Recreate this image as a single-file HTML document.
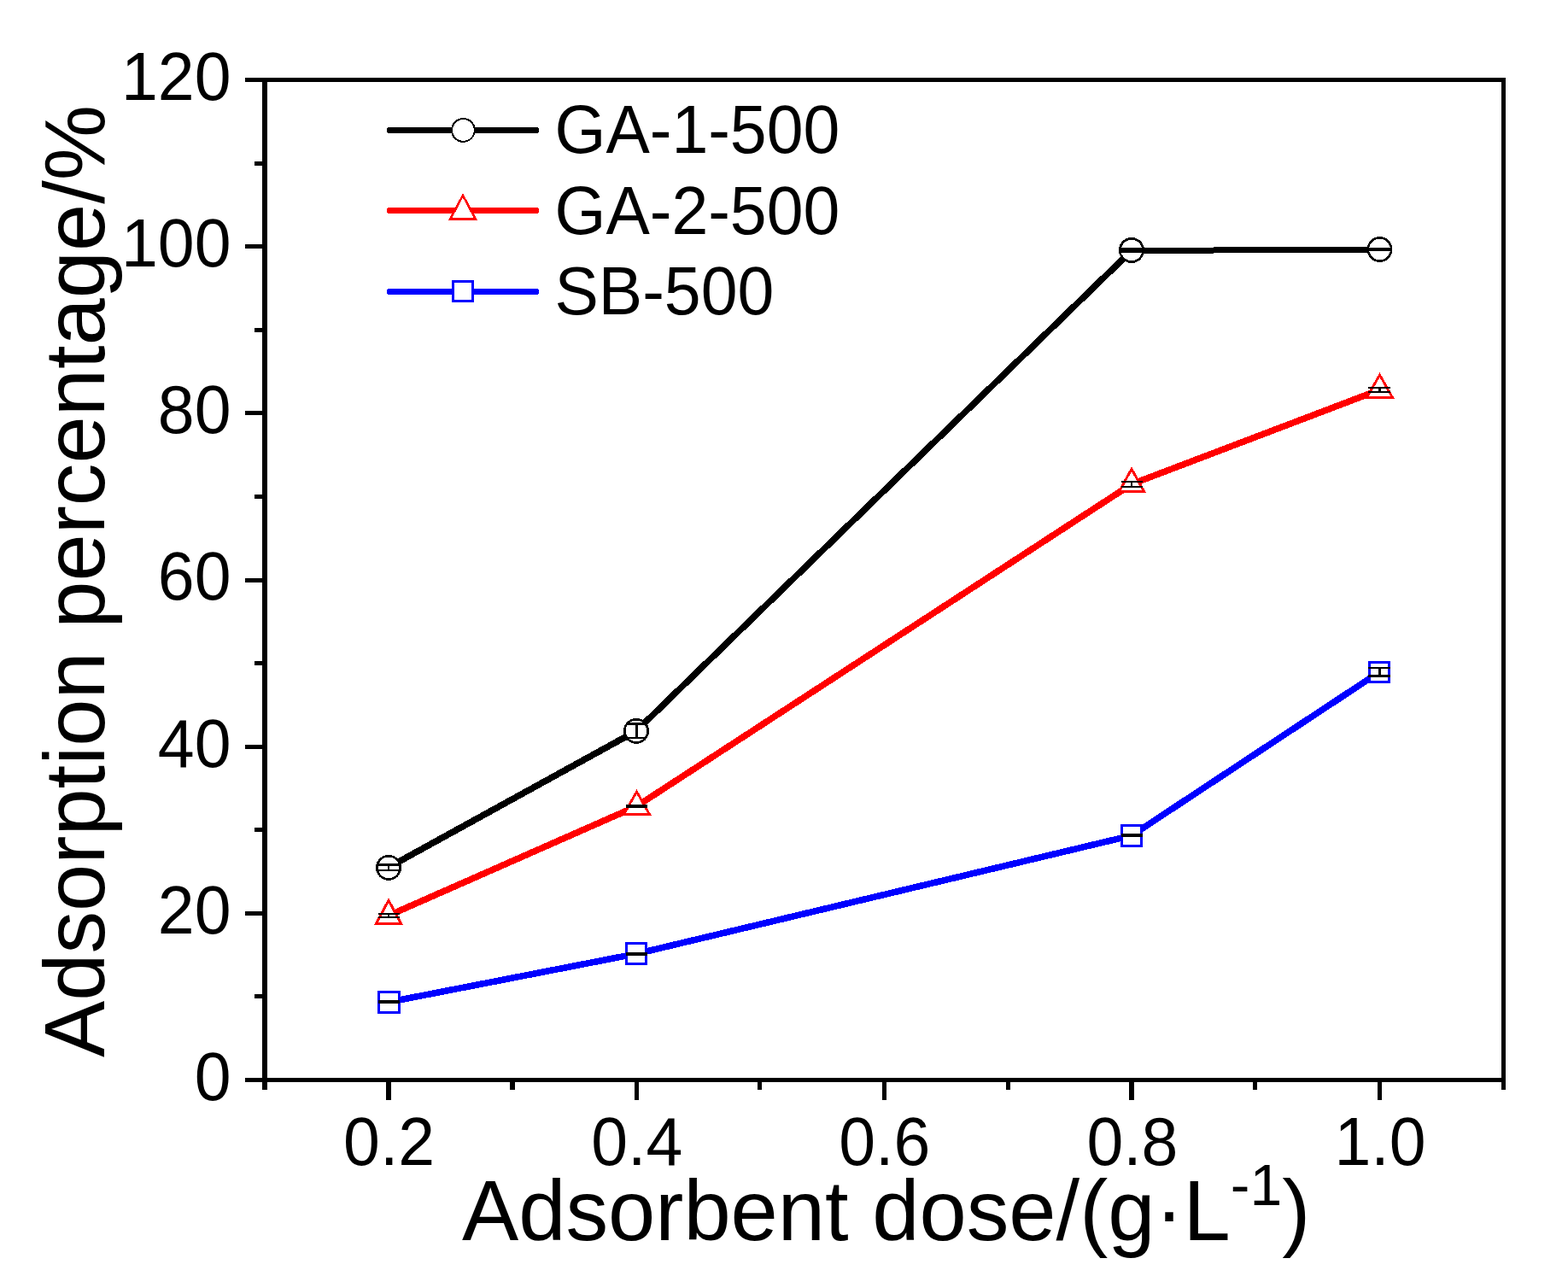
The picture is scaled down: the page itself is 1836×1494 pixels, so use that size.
<!DOCTYPE html>
<html lang="en">
<head>
<meta charset="utf-8">
<title>Adsorption percentage vs adsorbent dose</title>
<style>
html,body{margin:0;padding:0;background:#fff;}
body{width:1836px;height:1494px;overflow:hidden;}
svg{display:block;}
text{font-family:"Liberation Sans",sans-serif;fill:#000;}
.tick{font-size:77px;}
.title{font-size:99.3px;}
.leg{font-size:77px;}
.ax{fill:#000;}
.crisp{shape-rendering:crispEdges;}
.eb{fill:#000;}
</style>
</head>
<body>
<svg width="1836" height="1494" viewBox="0 0 1836 1494">
<rect x="0" y="0" width="1836" height="1494" fill="#fff"/>

<g class="ax crisp">
<rect x="307" y="91" width="6" height="1185"/>
<rect x="1758" y="91" width="5" height="1185"/>
<rect x="287" y="91" width="1476" height="5"/>
<rect x="287" y="1262" width="1476" height="5"/>
<rect x="298" y="1164" width="10" height="5"/>
<rect x="287" y="1067" width="21" height="5"/>
<rect x="298" y="969" width="10" height="5"/>
<rect x="287" y="872" width="21" height="5"/>
<rect x="298" y="774" width="10" height="5"/>
<rect x="287" y="677" width="21" height="5"/>
<rect x="298" y="579" width="10" height="5"/>
<rect x="287" y="481" width="21" height="5"/>
<rect x="298" y="384" width="10" height="5"/>
<rect x="287" y="286" width="21" height="5"/>
<rect x="298" y="189" width="10" height="5"/>
<rect x="452" y="1266" width="6" height="22"/>
<rect x="597" y="1266" width="6" height="10"/>
<rect x="743" y="1266" width="5" height="22"/>
<rect x="887" y="1266" width="5" height="10"/>
<rect x="1033" y="1266" width="5" height="22"/>
<rect x="1178" y="1266" width="5" height="10"/>
<rect x="1322" y="1266" width="6" height="22"/>
<rect x="1467" y="1266" width="5" height="10"/>
<rect x="1613" y="1266" width="5" height="22"/>
</g>
<g class="tick" text-anchor="end">
<text transform="translate(270.5,1287.8) scale(1,1.04)">0</text>
<text transform="translate(270.5,1092.6) scale(1,1.04)">20</text>
<text transform="translate(270.5,897.5) scale(1,1.04)">40</text>
<text transform="translate(270.5,702.3) scale(1,1.04)">60</text>
<text transform="translate(270.5,507.1) scale(1,1.04)">80</text>
<text transform="translate(270.5,312.0) scale(1,1.04)">100</text>
<text transform="translate(270.5,116.8) scale(1,1.04)">120</text>
</g>
<g class="tick" text-anchor="middle">
<text transform="translate(455.6,1363.8) scale(1,1.04)">0.2</text>
<text transform="translate(745.7,1363.8) scale(1,1.04)">0.4</text>
<text transform="translate(1035.8,1363.8) scale(1,1.04)">0.6</text>
<text transform="translate(1325.9,1363.8) scale(1,1.04)">0.8</text>
<text transform="translate(1616.0,1363.8) scale(1,1.04)">1.0</text>
</g>
<text class="title" x="541" y="1451.7">Adsorbent dose/(g·L<tspan font-size="68px" dy="-41">-1</tspan><tspan dy="41">)</tspan></text>
<text class="title" transform="translate(122,1238) rotate(-90)">Adsorption percentage/%</text>
<g class="crisp" fill="none" stroke-width="7.6" stroke-linejoin="round" stroke-linecap="butt">
<path d="M455 1015.5 L745 855.9 L1325 293.4" stroke="#000000"/>
<path d="M455 1072 L745.5 944 L1325 566.9 L1615.5 456.4" stroke="#ff0000"/>
<path d="M455.5 1173.2 L745 1116.8 L1325 978.3 L1615 787" stroke="#0000ff"/>
<path d="M1325 293.34L1615 292.34" stroke="#000000" stroke-width="7"/>
</g>
<g class="crisp">
<circle cx="455.05" cy="1015.9" r="13.65" fill="#fff" stroke="#000000" stroke-width="2.7"/>
<rect class="eb" x="443" y="1011" width="25" height="3"/><rect class="eb" x="443" y="1018" width="25" height="2"/><rect class="eb" x="454" y="1011" width="2" height="9"/>
<circle cx="745" cy="855.9" r="13.65" fill="#fff" stroke="#000000" stroke-width="2.7"/>
<rect class="eb" x="734" y="846" width="23" height="3"/><rect class="eb" x="734" y="863" width="23" height="2"/><rect class="eb" x="744" y="846" width="3" height="19"/>
<circle cx="1325" cy="293" r="13.65" fill="#fff" stroke="#000000" stroke-width="2.7"/>
<rect class="eb" x="1311" y="290" width="28" height="6"/>
<circle cx="1615.5" cy="292" r="13.65" fill="#fff" stroke="#000000" stroke-width="2.7"/>
<rect class="eb" x="1603" y="290" width="26" height="4"/>
<path d="M455 1054.09L469.59 1081.55L440.41 1081.55Z" fill="#fff" stroke="#ff0000" stroke-width="2.9" stroke-linejoin="miter" stroke-miterlimit="10"/>
<rect class="eb" x="443" y="1069" width="25" height="2"/><rect class="eb" x="443" y="1073" width="25" height="2"/><rect class="eb" x="454" y="1069" width="2" height="6"/>
<path d="M745.5 926.95L760.52 953.55L730.48 953.55Z" fill="#fff" stroke="#ff0000" stroke-width="2.9" stroke-linejoin="miter" stroke-miterlimit="10"/>
<rect class="eb" x="733" y="942" width="25" height="4"/>
<path d="M1325 549.02L1339.55 575.55L1310.45 575.55Z" fill="#fff" stroke="#ff0000" stroke-width="2.9" stroke-linejoin="miter" stroke-miterlimit="10"/>
<rect class="eb" x="1313" y="563" width="25" height="2"/><rect class="eb" x="1313" y="569" width="25" height="2"/><rect class="eb" x="1324" y="563" width="2" height="8"/>
<path d="M1615.5 438.95L1630.52 465.55L1600.48 465.55Z" fill="#fff" stroke="#ff0000" stroke-width="2.9" stroke-linejoin="miter" stroke-miterlimit="10"/>
<rect class="eb" x="1602" y="453" width="26" height="2"/><rect class="eb" x="1602" y="458" width="26" height="2"/><rect class="eb" x="1614" y="453" width="3" height="7"/>
<rect x="443.5" y="1161.5" width="24" height="24" fill="#fff" stroke="#0000ff" stroke-width="3.0"/>
<rect class="eb" x="443" y="1171" width="25" height="4"/>
<rect x="733.5" y="1104.5" width="23" height="24" fill="#fff" stroke="#0000ff" stroke-width="3.0"/>
<rect class="eb" x="733" y="1115" width="25" height="4"/>
<rect x="1313.5" y="966.5" width="23" height="24" fill="#fff" stroke="#0000ff" stroke-width="3.0"/>
<rect class="eb" x="1313" y="976" width="25" height="4"/>
<rect x="1603.5" y="775.5" width="23" height="23" fill="#fff" stroke="#0000ff" stroke-width="3.0"/>
<rect class="eb" x="1602" y="781" width="26" height="2"/><rect class="eb" x="1602" y="790" width="26" height="3"/><rect class="eb" x="1614" y="781" width="3" height="12"/>
</g>
<g class="crisp">
<path d="M456.4 152.5H627.6" fill="none" stroke="#000000" stroke-width="7" stroke-linecap="round"/>
<path d="M456.4 246.5H627.6" fill="none" stroke="#ff0000" stroke-width="7" stroke-linecap="round"/>
<path d="M456.4 341.5H627.6" fill="none" stroke="#0000ff" stroke-width="7" stroke-linecap="round"/>
<circle cx="542.4" cy="152.4" r="13.4" fill="#fff" stroke="#000000" stroke-width="2.0"/>
<path d="M542 228.77L556.84 256.7L527.16 256.7Z" fill="#fff" stroke="#ff0000" stroke-width="2.6" stroke-linejoin="miter" stroke-miterlimit="10"/>
<rect x="530.4" y="329.4" width="23.2" height="23.2" fill="#fff" stroke="#0000ff" stroke-width="2.8"/>
</g>
<text class="leg" transform="translate(649.5,178.7) scale(1,1.04)">GA-1-500</text>
<text class="leg" transform="translate(649.5,274.0) scale(1,1.04)">GA-2-500</text>
<text class="leg" transform="translate(649.5,367.8) scale(1,1.04)">SB-500</text>
</svg>
</body>
</html>
